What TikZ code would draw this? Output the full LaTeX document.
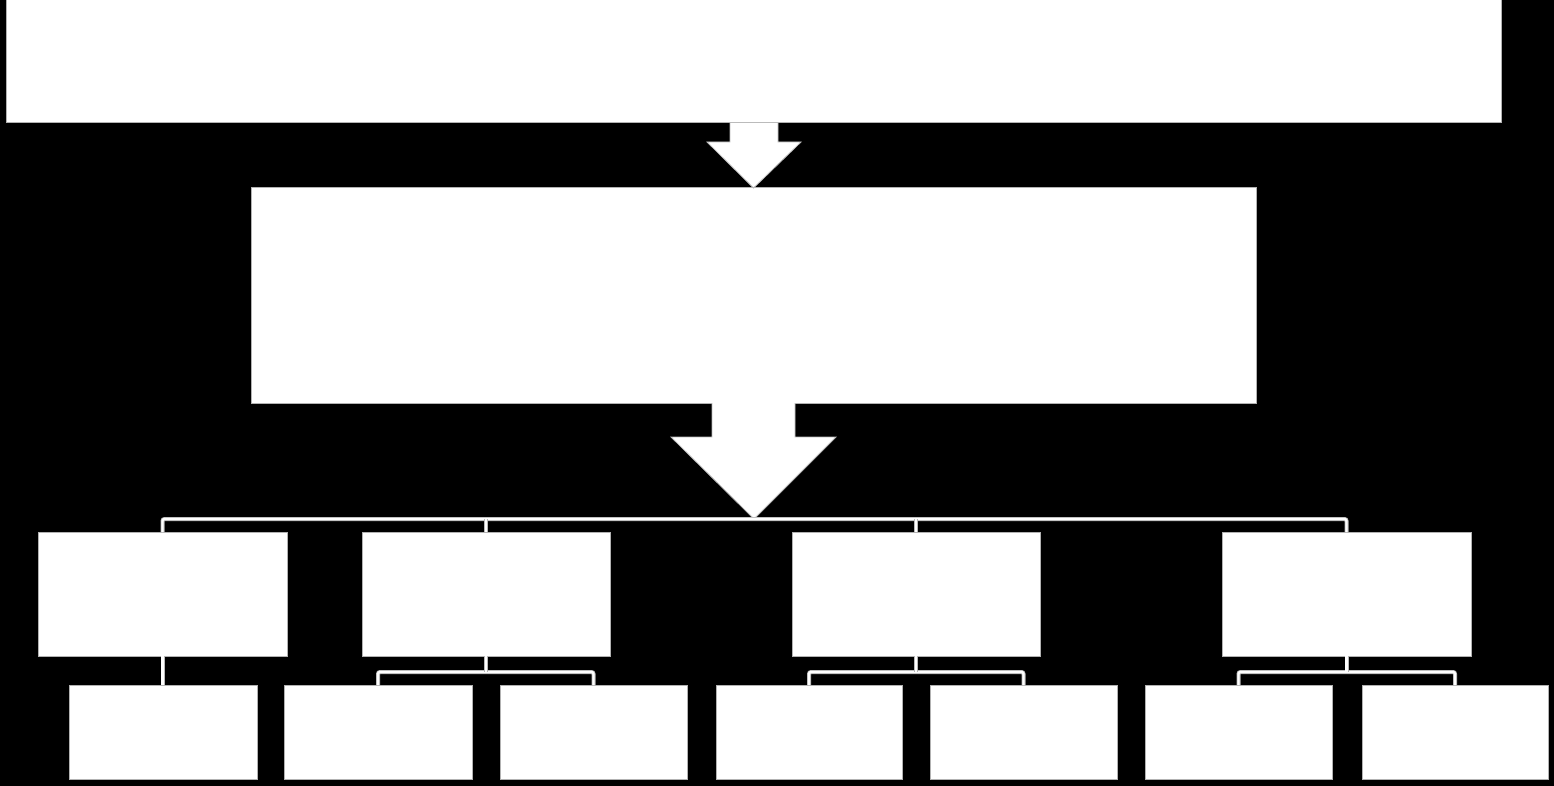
\documentclass[tikz,border=0pt]{standalone}
\usetikzlibrary{calc}
\begin{document}
\begin{tikzpicture}[x=1pt,y=-1pt,
  box/.style={draw=gray!60,fill=white,line width=1pt,inner sep=0pt,outer sep=0pt},
  conn/.style={draw=gray!55,line width=0.8pt,double=white,double distance=2.4pt,rounded corners=2pt},
  blockarrow/.style={fill=white,draw=gray!55,line width=0.8pt,line join=miter}]
\useasboundingbox (0,0) rectangle (1554,786);
\fill[black] (0,0) rectangle (1554,786);
% top level
\node[box,minimum width=1495pt,minimum height=123pt] (top) at (753.5,61.5) {};
\node[box,minimum width=1005pt,minimum height=215pt] (mid) at (753.5,295.5) {};
% level 3
\node[box,minimum width=249pt,minimum height=124pt] (A) at (162.5,594) {};
\node[box,minimum width=248pt,minimum height=124pt] (B) at (486,594) {};
\node[box,minimum width=248pt,minimum height=124pt] (C) at (916,594) {};
\node[box,minimum width=249pt,minimum height=124pt] (D) at (1346.5,594) {};
% level 4
\node[box,minimum width=188pt,minimum height=94pt] (A1) at (163,732) {};
\node[box,minimum width=188pt,minimum height=94pt] (B1) at (378,732) {};
\node[box,minimum width=187pt,minimum height=94pt] (B2) at (593.5,732) {};
\node[box,minimum width=186pt,minimum height=94pt] (C1) at (809,732) {};
\node[box,minimum width=187pt,minimum height=94pt] (C2) at (1023.5,732) {};
\node[box,minimum width=187pt,minimum height=94pt] (D1) at (1238.5,732) {};
\node[box,minimum width=186pt,minimum height=94pt] (D2) at (1455,732) {};
% block arrows
\path[blockarrow] ($(top.south)+(-23.5,0)$) -- ++(0,19) -- ++(-23,0) -- (mid.north) -- ($(top.south)+(47.5,19)$) -- ++(-23,0) -- ++(0,-19);
\coordinate (bus) at (754,519);
\path[blockarrow] ($(mid.south)+(-41.5,0)$) -- ++(0,34) -- ++(-41,0) -- (bus) -- ($(mid.south)+(82.5,34)$) -- ++(-41,0) -- ++(0,-34);
% connectors level 2 -> 3
\draw[conn] (A.north) |- (bus) -| (D.north);
\draw[conn] (B.north) -- (B.north |- bus);
\draw[conn] (C.north) -- (C.north |- bus);
% connectors level 3 -> 4
\draw[conn] (A.south) -- (A.south |- A1.north);
\draw[conn] (B1.north) |- ([yshift=13pt]B1.north -| B.south) -| (B2.north);
\draw[conn] (B.south) -- ([yshift=13pt]B1.north -| B.south);
\draw[conn] (C1.north) |- ([yshift=13pt]C1.north -| C.south) -| (C2.north);
\draw[conn] (C.south) -- ([yshift=13pt]C1.north -| C.south);
\draw[conn] (D1.north) |- ([yshift=13pt]D1.north -| D.south) -| (D2.north);
\draw[conn] (D.south) -- ([yshift=13pt]D1.north -| D.south);
\end{tikzpicture}
\end{document}
